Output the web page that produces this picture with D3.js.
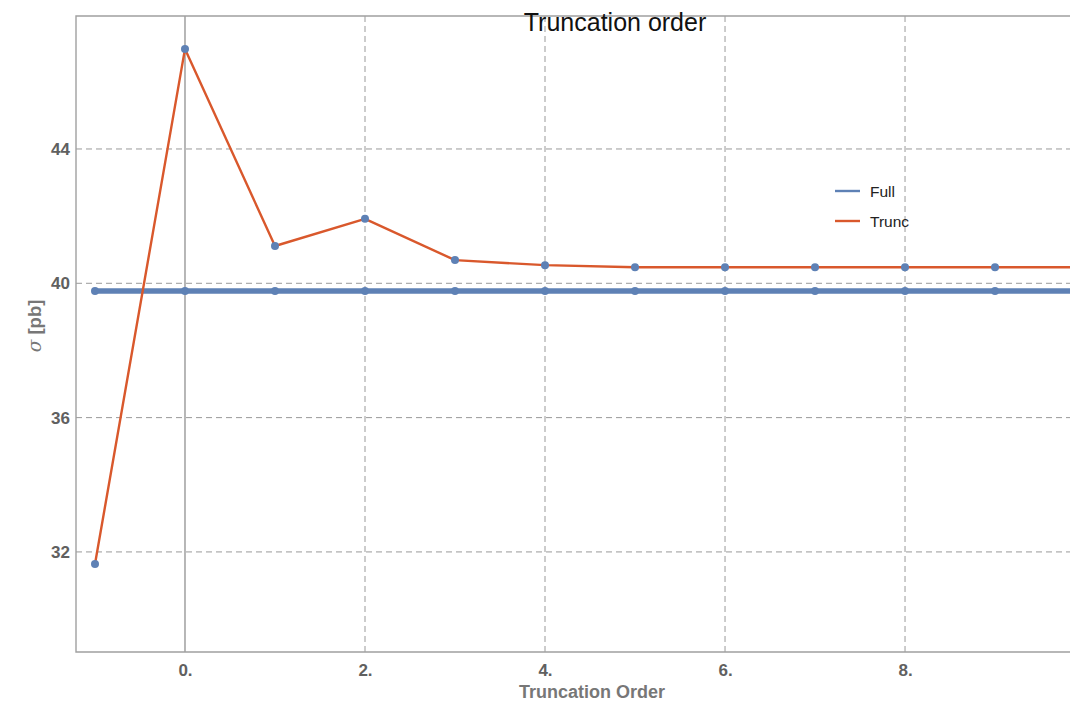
<!DOCTYPE html>
<html>
<head>
<meta charset="utf-8">
<script src="https://cdn.jsdelivr.net/npm/d3@7"></script>
<style>
  html, body { margin: 0; padding: 0; background: #fff; }
  svg { display: block; }
</style>
</head>
<body>
<svg id="chart" width="1070" height="704"></svg>
<script>
// Truncation orders and cross sections (pb)
const orders = [-1, 0, 1, 2, 3, 4, 5, 6, 7, 8, 9, 10];
const truncValues = [31.64, 46.98, 41.11, 41.92, 40.69, 40.54, 40.48, 40.48, 40.48, 40.48, 40.48, 40.48];
const fullValues = [39.77, 39.77, 39.77, 39.77, 39.77, 39.77, 39.77, 39.77, 39.77, 39.77, 39.77, 39.77];
const xTicks = [0, 2, 4, 6, 8];
const yTicks = [32, 36, 40, 44];
const xTickLabels = ["0.", "2.", "4.", "6.", "8."];
const seriesNames = ["Full", "Trunc"];

const colors = { Full: "#5e81b5", Trunc: "#d9582c" };
const font = "'Liberation Sans', Arial, sans-serif";

const svg = d3.select("#chart");
const frame = { left: 76, right: 1070, top: 16, bottom: 652 };

const x = d3.scaleLinear().domain([-1.211, 9.833]).range([frame.left, frame.right]);
const y = d3.scaleLinear().domain([29.02, 47.96]).range([frame.bottom, frame.top]);

svg.append("defs").append("clipPath").attr("id", "plot-clip")
  .append("rect")
  .attr("x", frame.left).attr("y", frame.top - 4)
  .attr("width", frame.right - frame.left).attr("height", frame.bottom - frame.top + 4);

// dashed grid
const grid = svg.append("g");
grid.selectAll("line.gx").data(xTicks.filter(d => d !== 0)).join("line")
  .attr("x1", d => x(d)).attr("x2", d => x(d))
  .attr("y1", frame.top).attr("y2", frame.bottom)
  .attr("stroke", "#999").attr("stroke-width", 1).attr("stroke-dasharray", "6,4");
grid.selectAll("line.gy").data(yTicks).join("line")
  .attr("x1", frame.left).attr("x2", frame.right)
  .attr("y1", d => y(d)).attr("y2", d => y(d))
  .attr("stroke", "#999").attr("stroke-width", 1).attr("stroke-dasharray", "6,4");

// vertical axis line at order 0
svg.append("line")
  .attr("x1", x(0)).attr("x2", x(0))
  .attr("y1", frame.top).attr("y2", frame.bottom)
  .attr("stroke", "#888").attr("stroke-width", 1.2);

// frame (left, top, bottom)
svg.append("path")
  .attr("d", `M${frame.right},${frame.top}H${frame.left}V${frame.bottom}H${frame.right}`)
  .attr("fill", "none").attr("stroke", "#a0a0a0").attr("stroke-width", 1.4);

// axes (labels only, ticks hidden)
const xAxis = d3.axisBottom(x).tickValues(xTicks)
  .tickFormat((d, i) => xTickLabels[i]).tickSize(0).tickPadding(12);
const gx = svg.append("g").attr("transform", `translate(0,${frame.bottom})`).call(xAxis);
const yAxis = d3.axisLeft(y).tickValues(yTicks).tickSize(0).tickPadding(6);
const gy = svg.append("g").attr("transform", `translate(${frame.left},0)`).call(yAxis);
[gx, gy].forEach(g => {
  g.select(".domain").remove();
  g.selectAll("text")
    .attr("font-family", font).attr("font-size", 17).attr("font-weight", "bold")
    .attr("fill", "#606060");
});

// series
const plot = svg.append("g").attr("clip-path", "url(#plot-clip)");
const line = d3.line().x(d => x(d[0])).y(d => y(d[1]));
const fullPts = orders.map((o, i) => [o, fullValues[i]]);
const truncPts = orders.map((o, i) => [o, truncValues[i]]);

plot.append("path").datum(fullPts).attr("d", line)
  .attr("fill", "none").attr("stroke", colors.Full).attr("stroke-width", 5.5);
plot.append("path").datum(truncPts).attr("d", line)
  .attr("fill", "none").attr("stroke", colors.Trunc).attr("stroke-width", 2.4)
  .attr("stroke-linejoin", "round");

plot.selectAll("circle.pt").data(fullPts.concat(truncPts)).join("circle")
  .attr("cx", d => x(d[0])).attr("cy", d => y(d[1])).attr("r", 4)
  .attr("fill", colors.Full);

// title
svg.append("text")
  .attr("x", 615).attr("y", 31).attr("text-anchor", "middle")
  .attr("font-family", font).attr("font-size", 25).attr("fill", "#111")
  .text("Truncation order");

// axis titles
svg.append("text")
  .attr("x", 592).attr("y", 698).attr("text-anchor", "middle")
  .attr("font-family", font).attr("font-size", 18).attr("font-weight", "bold")
  .attr("fill", "#777").text("Truncation Order");

const yl = svg.append("text")
  .attr("transform", "translate(41,326) rotate(-90)").attr("text-anchor", "middle")
  .attr("font-family", font).attr("font-size", 18.5).attr("font-weight", "bold")
  .attr("fill", "#777");
yl.append("tspan").attr("font-style", "italic").attr("font-family", "'DejaVu Serif', serif").attr("font-weight", "normal").text("σ");
yl.append("tspan").text(" [pb]");

// legend
const legend = svg.append("g").attr("transform", "translate(835,191)");
seriesNames.forEach((name, i) => {
  const g = legend.append("g").attr("transform", `translate(0,${i * 30})`);
  g.append("line").attr("x1", 0).attr("x2", 25).attr("y1", 0).attr("y2", 0)
    .attr("stroke", colors[name]).attr("stroke-width", 2.4);
  g.append("text").attr("x", 35).attr("y", 5.5)
    .attr("font-family", font).attr("font-size", 15.5).attr("fill", "#222")
    .text(name);
});
</script>
</body>
</html>
